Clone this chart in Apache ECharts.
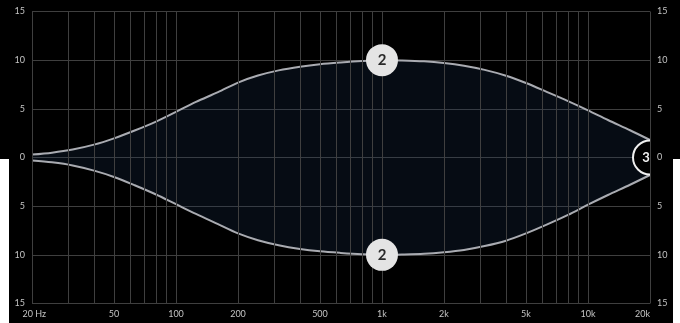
<!DOCTYPE html>
<html>
<head>
<meta charset="utf-8">
<script src="https://cdn.jsdelivr.net/npm/echarts@6/dist/echarts.min.js"></script>
<style>
html,body{margin:0;padding:0;background:#000;}
#c{width:680px;height:323px;}
</style>
</head>
<body>
<div id="c"></div>
<script>
// ---- data ----
const freqs = [20, 25, 31.5, 40, 50, 63, 80, 100, 125, 160, 200, 250, 315, 400, 500, 630, 800, 1000,
  1250, 1600, 2000, 2500, 3150, 4000, 5000, 6300, 8000, 10000, 12500, 16000, 20000];
const upperGain = [0.3, 0.5, 0.82, 1.32, 1.97, 2.77, 3.69, 4.69, 5.71, 6.71, 7.7, 8.42, 8.95, 9.33, 9.59, 9.77, 9.92, 10.0,
  9.97, 9.88, 9.7, 9.42, 9.0, 8.4, 7.65, 6.75, 5.8, 4.85, 3.85, 2.8, 1.8];
const lowerGain = [-0.3, -0.5, -0.82, -1.35, -2.0, -2.85, -3.8, -4.8, -5.8, -6.85, -7.8, -8.5, -9.02, -9.4, -9.64, -9.8, -9.93, -10.0,
  -9.97, -9.9, -9.74, -9.5, -9.1, -8.55, -7.8, -6.9, -5.9, -4.85, -3.85, -2.8, -1.8];
const xTickValues = [20, 50, 100, 200, 500, 1000, 2000, 5000, 10000, 20000];
const xTickLabels = ['20 Hz', '50', '100', '200', '500', '1k', '2k', '5k', '10k', '20k'];
const gridFreqs = [20, 30, 40, 50, 60, 70, 80, 90, 100, 200, 300, 400, 500, 600, 700, 800, 900,
  1000, 2000, 3000, 4000, 5000, 6000, 7000, 8000, 9000, 10000, 20000];
const bandFreq = [1000, 1000];
const bandGain = [10, -10];
const bandLabel = ['2', '2'];
const shelfFreq = 20000;
const shelfGain = 0;
const shelfLabel = '3';

const chart = echarts.init(document.getElementById('c'));
const txt = '#c4c4c4';
const gridCol = '#3f3f3f';
const font = 'Lato';

function pairs(g){ return freqs.map((f,i)=>[f,g[i]]); }

const yBase = {
  type: 'value', min: -15, max: 15, interval: 5,
  axisLine: {show: false}, axisTick: {show: false},
  splitLine: {show: true, lineStyle: {color: gridCol, width: 1}},
  axisLabel: {color: txt, fontSize: 9, fontFamily: font, margin: 7, formatter: v => String(Math.abs(v))}
};

chart.setOption({
  backgroundColor: '#000',
  animation: false,
  grid: {left: 32, right: 30, top: 11.5, bottom: 19.5},
  xAxis: {
    type: 'log', logBase: 10, min: 20, max: 20000,
    axisLine: {show: false}, axisTick: {show: false}, splitLine: {show: false},
    axisLabel: {
      color: txt, fontSize: 9, fontFamily: font, margin: 6,
      customValues: xTickValues,
      alignMaxLabel: 'right',
      formatter: v => { const i = xTickValues.indexOf(Math.round(v)); return i >= 0 ? (i === 0 ? '  ' + xTickLabels[i] : xTickLabels[i]) : ''; }
    }
  },
  yAxis: [
    Object.assign({}, yBase, {position: 'left'}),
    Object.assign({}, yBase, {position: 'right', splitLine: {show: false}, z: 10})
  ],
  graphic: [
    {type: 'rect', left: 0, top: 159, shape: {width: 9, height: 164}, style: {fill: '#ffffff'}, z: 20},
    {type: 'rect', left: 673, top: 159, shape: {width: 7, height: 164}, style: {fill: '#ffffff'}, z: 20}
  ],
  series: [
    {
      type: 'line', data: [], silent: true,
      markLine: {
        silent: true, symbol: 'none', label: {show: false},
        lineStyle: {color: gridCol, width: 1, type: 'solid'},
        data: gridFreqs.map(f => ({xAxis: f}))
      }
    },
    {
      type: 'line', data: pairs(upperGain), smooth: 0.3, showSymbol: false, silent: true,
      lineStyle: {color: '#a9abb1', width: 2},
      areaStyle: {color: 'rgba(28,52,88,0.32)', origin: 0}
    },
    {
      type: 'line', data: pairs(lowerGain), smooth: 0.3, showSymbol: false, silent: true,
      lineStyle: {color: '#a9abb1', width: 2},
      areaStyle: {color: 'rgba(28,52,88,0.32)', origin: 0}
    },
    {
      type: 'scatter', z: 5, symbol: 'circle', symbolSize: 32,
      data: bandFreq.map((f,i)=>({value:[f,bandGain[i]], name: bandLabel[i]})),
      itemStyle: {color: '#e4e4e4', opacity: 1},
      label: {show: true, position: 'inside', formatter: p => p.name, color: '#2a2a2a', fontSize: 15, fontWeight: 'bold', fontFamily: font}
    },
    {
      type: 'custom', z: 6, clip: false,
      data: [[shelfFreq, shelfGain]],
      renderItem: (params, api) => {
        const p = api.coord([api.value(0), api.value(1)]);
        const r = 17;
        return {
          type: 'group',
          children: [
            {type: 'sector', shape: {cx: p[0], cy: p[1], r0: 0, r: r, startAngle: Math.PI/2, endAngle: Math.PI*1.5}, style: {fill: '#000'}},
            {type: 'arc', shape: {cx: p[0], cy: p[1], r: r, startAngle: Math.PI/2, endAngle: Math.PI*1.5}, style: {stroke: '#f0f0f0', lineWidth: 2, fill: null}},
            {type: 'text', style: {text: shelfLabel, x: p[0]-4, y: p[1], fill: '#f0f0f0', font: 'bold 13px Lato', align: 'center', verticalAlign: 'middle'}}
          ]
        };
      }
    }
  ]
});
</script>
</body>
</html>
